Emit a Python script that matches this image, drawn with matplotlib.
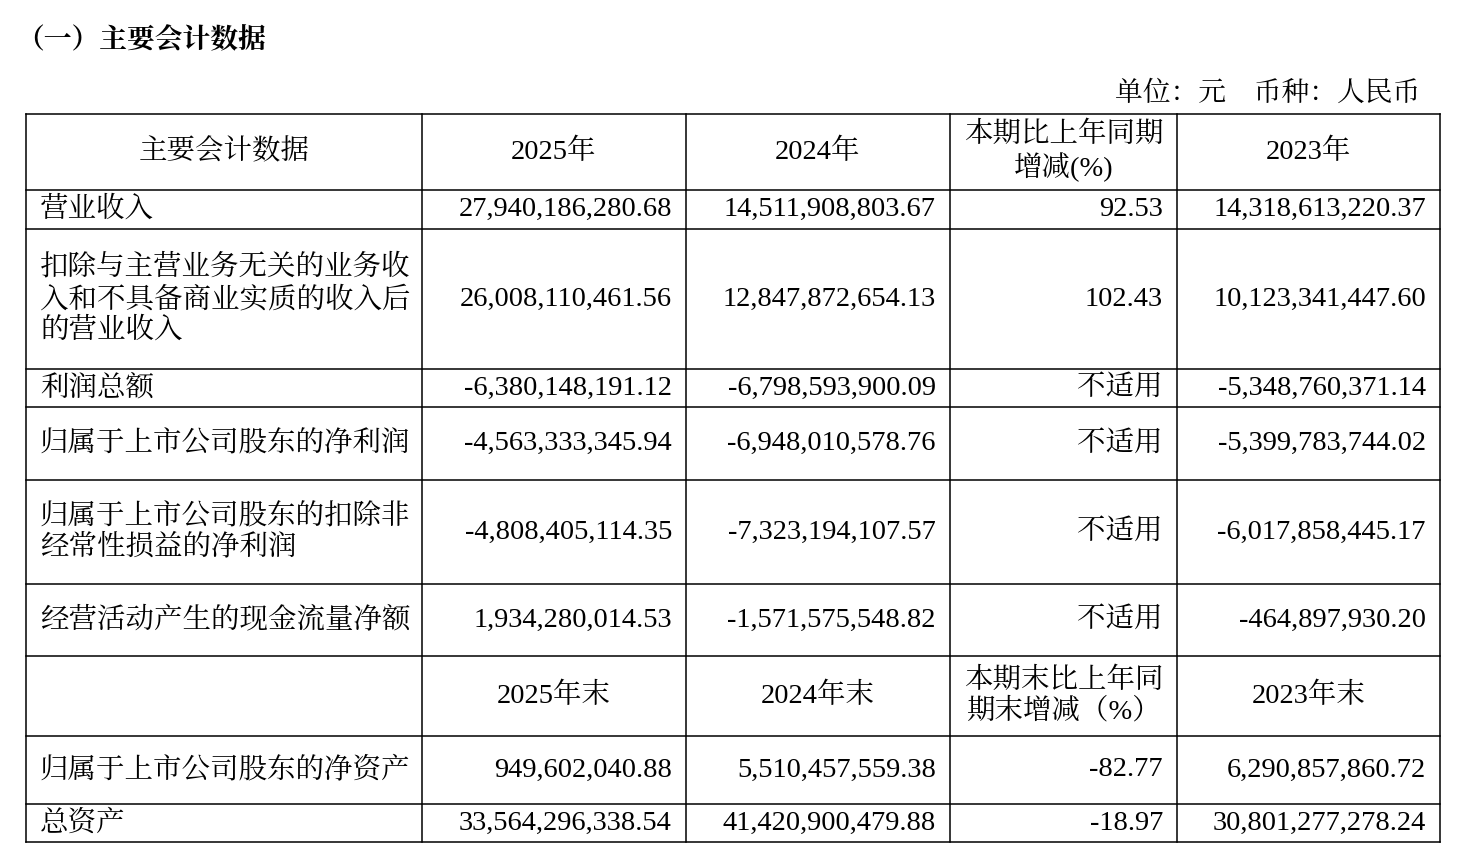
import matplotlib.pyplot as plt

plt.rcParams['font.family'] = ['Liberation Serif', 'Noto Serif CJK SC', 'Noto Sans CJK SC']

# table data
header1 = ["主要会计数据", "2025年", "2024年", "本期比上年同期\n增减(%)", "2023年"]
header2 = ["", "2025年末", "2024年末", "本期末比上年同\n期末增减（%）", "2023年末"]
labels = [
    "营业收入",
    "扣除与主营业务无关的业务收\n入和不具备商业实质的收入后\n的营业收入",
    "利润总额",
    "归属于上市公司股东的净利润",
    "归属于上市公司股东的扣除非\n经常性损益的净利润",
    "经营活动产生的现金流量净额",
]
v2025 = ["27,940,186,280.68", "26,008,110,461.56", "-6,380,148,191.12",
         "-4,563,333,345.94", "-4,808,405,114.35", "1,934,280,014.53"]
v2024 = ["14,511,908,803.67", "12,847,872,654.13", "-6,798,593,900.09",
         "-6,948,010,578.76", "-7,323,194,107.57", "-1,571,575,548.82"]
chg = ["92.53", "102.43", "不适用", "不适用", "不适用", "不适用"]
v2023 = ["14,318,613,220.37", "10,123,341,447.60", "-5,348,760,371.14",
         "-5,399,783,744.02", "-6,017,858,445.17", "-464,897,930.20"]
labels_b = ["归属于上市公司股东的净资产", "总资产"]
b2025 = ["949,602,040.88", "33,564,296,338.54"]
b2024 = ["5,510,457,559.38", "41,420,900,479.88"]
bchg = ["-82.77", "-18.97"]
b2023 = ["6,290,857,860.72", "30,801,277,278.24"]

# layout (pixels)
cols = [26, 422, 686, 950, 1177, 1440]
rows = [114, 190, 229, 369, 407, 480, 584, 656, 736, 804, 842]
fs = 20.5

fig = plt.figure(figsize=(14.68, 8.68), dpi=100)
ax = fig.add_axes([0, 0, 1, 1])
ax.set_xlim(0, 1468)
ax.set_ylim(868, 0)
ax.axis('off')

ax.text(16, 40, "（一）主要会计数据", fontsize=20, fontweight='bold', va='center', ha='left')
ax.text(1420, 94, "单位：元　币种：人民币", fontsize=20, va='center', ha='right')

for y in rows:
    ax.plot([cols[0], cols[-1]], [y, y], color='black', lw=1.1)
for x in cols:
    ax.plot([x, x], [rows[0], rows[-1]], color='black', lw=1.1)

def header(row_i, items):
    yc = (rows[row_i] + rows[row_i + 1]) / 2
    for j, t in enumerate(items):
        if t:
            xc = (cols[j] + cols[j + 1]) / 2
            ax.text(xc, yc, t, fontsize=fs, ha='center', va='center', linespacing=1.2)

def body(row_start, labs, cols_vals):
    for i, lab in enumerate(labs):
        yc = (rows[row_start + i] + rows[row_start + i + 1]) / 2
        ax.text(40, yc, lab, fontsize=fs, ha='left', va='center', linespacing=1.2)
        for j, vals in enumerate(cols_vals):
            ax.text(cols[j + 2] - 14, yc, vals[i], fontsize=fs, ha='right', va='center')

header(0, header1)
body(1, labels, [v2025, v2024, chg, v2023])
header(7, header2)
body(8, labels_b, [b2025, b2024, bchg, b2023])

fig.savefig("out.png", dpi=100)
